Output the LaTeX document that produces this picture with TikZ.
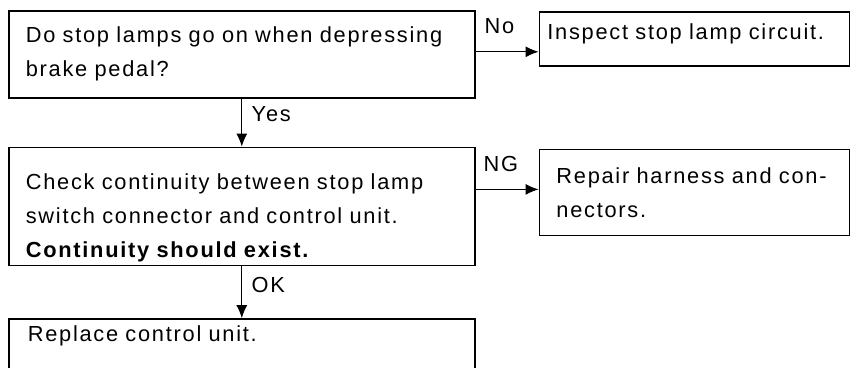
\documentclass[tikz,border=0pt]{standalone}
\usepackage{fontspec}
\setmainfont[LetterSpace=8, WordSpace=1.8]{Liberation Sans}
\usepackage{tikz}
\usetikzlibrary{positioning, arrows.meta}

\begin{document}
\begin{tikzpicture}[node distance=48pt, auto,
    font=\fontsize{21.8}{34}\selectfont,
    box/.style={draw, rectangle, line width=1.6pt, align=left, inner xsep=17pt},
    >={Latex[length=13pt, width=11pt]}]
   \useasboundingbox (0pt,0pt) rectangle (851pt,-367pt);
   \node[box, minimum width=466pt, minimum height=87pt, text width=432pt, anchor=north west] (q_lamps) at (8pt,-10pt) {Do stop lamps go on when depressing\\brake pedal?};
   \node[box, minimum width=310pt, minimum height=54pt, inner xsep=8pt, text width=294pt, text depth=15pt] (q_inspect) [right=63pt of q_lamps.north east, anchor=north west, yshift=-1pt] {Inspect stop lamp circuit.};
   \node[box, minimum width=466pt, minimum height=118pt, text width=432pt, text height=38pt] (q_check) [below=of q_lamps] {Check continuity between stop lamp\\switch connector and control unit.\\\textbf{Continuity should exist.}};
   \node[box, minimum width=310pt, minimum height=86pt, text width=276pt] (q_repair) [right=63pt of q_check.north east, anchor=north west, yshift=-2pt] {Repair harness and con-\\nectors.};
   \node[box, minimum width=466pt, inner xsep=19pt, text width=428pt, inner ysep=7pt, text depth=60pt] (q_replace) [below=52pt of q_check] {Replace control unit.};
   \path[->, line width=1.2pt]
    ([yshift=2.5pt]q_lamps.east) edge node[pos=0.38, above=14pt] {No} ([yshift=2.5pt]q_lamps.east -| q_inspect.west)
    (q_lamps) edge node[pos=0.33, right=6pt] {Yes} (q_check)
    ([yshift=3pt]q_repair.west -| q_check.east) edge node[pos=0.4, above=14pt] {NG} ([yshift=3pt]q_repair.west)
    (q_check) edge node[pos=0.36, right=6pt] {OK} (q_replace)
    ;
\end{tikzpicture}
\end{document}
